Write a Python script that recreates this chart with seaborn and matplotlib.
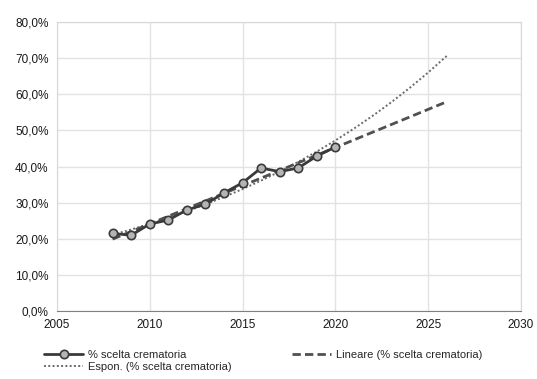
import numpy as np
import pandas as pd
import matplotlib
matplotlib.use("Agg")
import matplotlib.pyplot as plt
import seaborn as sns
from matplotlib.ticker import FuncFormatter

# data
anni = [2008, 2009, 2010, 2011, 2012, 2013, 2014, 2015, 2016, 2017, 2018, 2019, 2020]
perc_cremazione = [21.5, 21.0, 24.1, 25.2, 28.0, 29.6, 32.7, 35.5, 39.6, 38.6, 39.6, 42.9, 45.4]
anni_trend = list(range(2008, 2027))

df = pd.DataFrame({"anno": anni, "perc": perc_cremazione})

# trendlines like excel: linear and exponential
lin = np.polyfit(anni, perc_cremazione, 1)
expo = np.polyfit(anni, np.log(perc_cremazione), 1)
trend = pd.DataFrame({"anno": anni_trend})
trend["lineare"] = np.polyval(lin, trend["anno"])
trend["espon"] = np.exp(np.polyval(expo, trend["anno"]))

sns.set_style("white")
plt.rcParams["font.family"] = ["Liberation Sans", "DejaVu Sans"]

fig, ax = plt.subplots(figsize=(5.37, 3.79), dpi=100)
fig.subplots_adjust(left=0.106, right=0.970, top=0.942, bottom=0.179)

sns.lineplot(data=trend, x="anno", y="espon", ax=ax, color="#6a6a6a",
             linestyle=(0, (1, 1.2)), linewidth=1.4, label="Espon. (% scelta crematoria)")
sns.lineplot(data=trend, x="anno", y="lineare", ax=ax, color="#505050",
             linestyle=(0, (3, 1.5)), linewidth=2.0, label="Lineare (% scelta crematoria)")
sns.lineplot(data=df, x="anno", y="perc", ax=ax, color="#3a3a3a", linewidth=2.0,
             marker="o", markersize=6, markerfacecolor="#b4b4b4",
             markeredgecolor="#3a3a3a", markeredgewidth=1.2, label="% scelta crematoria")

ax.set_xlim(2005, 2030)
ax.set_ylim(0, 80)
ax.set_xticks(range(2005, 2031, 5))
ax.set_yticks(range(0, 81, 10))
ax.yaxis.set_major_formatter(FuncFormatter(lambda v, p: f"{v:.1f}%".replace(".", ",")))
ax.grid(True, color="#e2e2e2", linewidth=1.0)
ax.set_axisbelow(True)
for s in ax.spines.values():
    s.set_color("#d8d8d8")
ax.spines["bottom"].set_color("#808080")
ax.set_xlabel("")
ax.set_ylabel("")
ax.tick_params(axis="both", labelsize=8.5, colors="#1a1a1a", length=0, pad=6)

handles, labels = ax.get_legend_handles_labels()
ax.get_legend().remove()
# order: data, espon (column 1) / lineare (column 2)
order = [2, 0, 1]
fig.legend([handles[i] for i in order], [labels[i] for i in order],
           loc="lower left", bbox_to_anchor=(0.07, 0.0, 0.84, 0.1), mode="expand",
           ncol=2, frameon=False, fontsize=8, handlelength=3.5,
           handletextpad=0.4, labelspacing=0.2, borderaxespad=0.2)

plt.savefig("out.png", dpi=100)
